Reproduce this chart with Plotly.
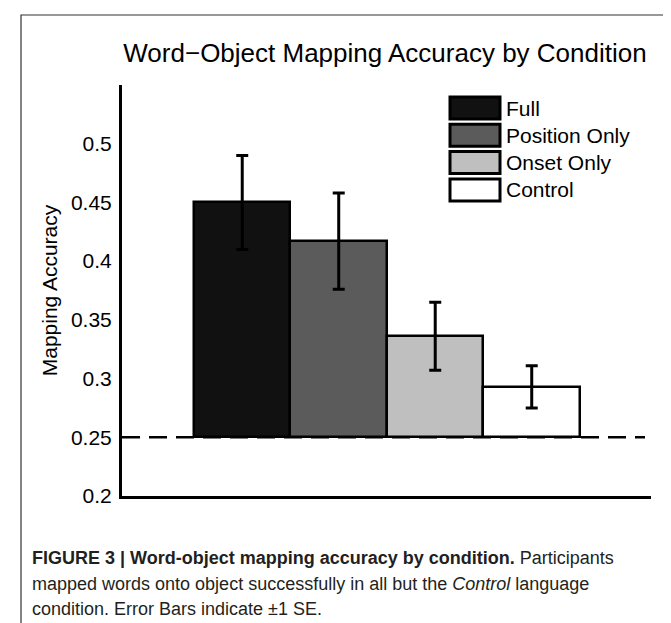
"""Word-object mapping accuracy by condition, bar chart with SE error bars."""

import plotly.graph_objects as go

conditions = ["Full", "Position Only", "Onset Only", "Control"]
accuracy = [0.450, 0.417, 0.336, 0.293]
std_err = [0.040, 0.041, 0.029, 0.018]
bar_colors = ["#111111", "#5b5b5b", "#bfbfbf", "#ffffff"]
chance = 0.25
tick_vals = [0.2, 0.25, 0.3, 0.35, 0.4, 0.45, 0.5]
tick_text = ["0.2", "0.25", "0.3", "0.35", "0.4", "0.45", "0.5"]

W, H = 671, 623
L, R, T, B = 114, 28, 77, 135
FONT = "Liberation Sans, Arial, Helvetica, sans-serif"


def px_x(p):
    return (p - L) / (W - L - R)


def px_y(p):
    return (H - B - p) / (H - T - B)


fig = go.Figure(
    go.Bar(
        x=conditions,
        y=[a - chance for a in accuracy],
        base=chance,
        marker=dict(color=bar_colors, line=dict(color="black", width=2.5)),
        error_y=dict(type="data", array=std_err, color="black", thickness=3, width=6),
        showlegend=False,
    )
)

# chance line
fig.add_shape(type="line", xref="paper", yref="y", x0=0, x1=px_x(637), y0=chance, y1=chance,
              line=dict(color="black", width=2.5, dash="18px,9px"), layer="below")

# outer figure frame
fig.add_shape(type="rect", xref="paper", yref="paper", x0=px_x(13), x1=px_x(668),
              y0=px_y(640), y1=px_y(7), line=dict(color="#333333", width=1.2))

# hand-drawn legend, matlab style
for i, (name, col) in enumerate(zip(conditions, bar_colors)):
    cy = 100 + i * 27.3
    fig.add_shape(type="rect", xref="paper", yref="paper", x0=px_x(442), x1=px_x(492),
                  y0=px_y(cy + 11), y1=px_y(cy - 11), fillcolor=col,
                  line=dict(color="black", width=3))
    fig.add_annotation(text=name, xref="paper", yref="paper", x=px_x(496), y=px_y(cy),
                       xanchor="left", yanchor="middle", showarrow=False,
                       font=dict(size=21, color="black", family=FONT))

caption = [
    "<b>FIGURE 3 | Word-object mapping accuracy by condition.</b> Participants",
    "mapped words onto object successfully in all but the <i>Control</i> language",
    "condition. Error Bars indicate \u00b11 SE.",
]
for i, line in enumerate(caption):
    fig.add_annotation(text=line, xref="paper", yref="paper", x=px_x(22), y=px_y(550 + i * 25.5),
                       xanchor="left", yanchor="middle", showarrow=False,
                       font=dict(size=18, color="#231f20", family=FONT))

fig.update_xaxes(range=[-1.246, 4.236], showticklabels=False, showline=True,
                 linecolor="black", linewidth=3, showgrid=False, zeroline=False, ticks="")
fig.update_yaxes(range=[0.2, 0.55], tickvals=tick_vals, ticktext=tick_text, showline=True,
                 linecolor="black", linewidth=3, showgrid=False, zeroline=False, ticks="",
                 ticklabelstandoff=3, tickfont=dict(size=21, color="black"),
                 title=dict(text="Mapping Accuracy", standoff=8, font=dict(size=21, color="black")))

fig.update_layout(
    width=W,
    height=H,
    margin=dict(l=L, r=R, t=T, b=B, autoexpand=False),
    bargap=0,
    plot_bgcolor="white",
    paper_bgcolor="white",
    font=dict(family=FONT, color="black"),
    title=dict(text="Word\u2212Object Mapping Accuracy by Condition", x=377 / W, xanchor="center",
               xref="container", y=1 - 45 / H, yanchor="middle", yref="container",
               font=dict(size=26, color="black")),
)

fig.write_html("out.html")
